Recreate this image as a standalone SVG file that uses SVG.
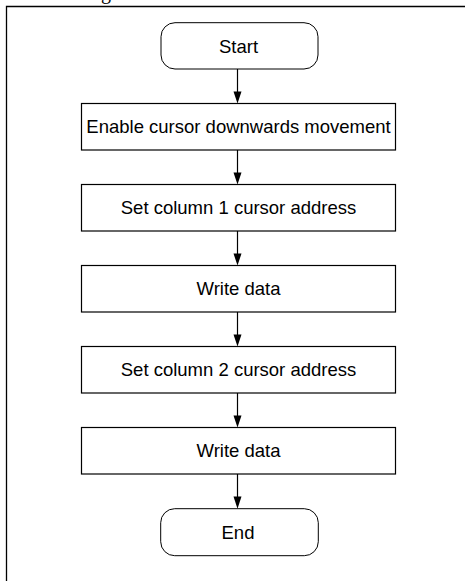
<svg xmlns="http://www.w3.org/2000/svg" width="465" height="581" viewBox="0 0 465 581">
<style>
.box{fill:#fff;stroke:#000;stroke-width:1.2}
.term{fill:#fff;stroke:#000;stroke-width:1}
.lbl{font-family:"Liberation Sans",Arial,sans-serif;font-size:18.5px;fill:#000;text-anchor:middle}
.conn line{stroke:#000;stroke-width:1.2}
.conn polygon{fill:#000}
</style>
<rect width="465" height="581" fill="#fff"/>
<text x="101" y="-1.5" style="font-family:'Liberation Serif',serif;font-size:20px;fill:#000">g</text>
<path d="M6.5,590 V6.5 H475" fill="none" stroke="#000" stroke-width="1.3"/>
<g id="start"><rect class="term" x="161" y="22.7" width="157" height="46.3" rx="14"/><text class="lbl" x="238.5" y="52.5">Start</text></g>
<g id="enable"><rect class="box" x="81.5" y="103.5" width="314" height="46.5"/><text class="lbl" x="238.5" y="133.3">Enable cursor downwards movement</text></g>
<g id="setcol1"><rect class="box" x="81.5" y="184.5" width="314" height="46.5"/><text class="lbl" x="238.5" y="214.3">Set column 1 cursor address</text></g>
<g id="write1"><rect class="box" x="81.5" y="265.5" width="314" height="46.5"/><text class="lbl" x="238.5" y="295.3">Write data</text></g>
<g id="setcol2"><rect class="box" x="81.5" y="346.5" width="314" height="46.5"/><text class="lbl" x="238.5" y="376.3">Set column 2 cursor address</text></g>
<g id="write2"><rect class="box" x="81.5" y="427.5" width="314" height="46.5"/><text class="lbl" x="238.5" y="457.3">Write data</text></g>
<g id="end"><rect class="term" x="160.7" y="508.7" width="157.6" height="47" rx="14"/><text class="lbl" x="238" y="538.8">End</text></g>
<g class="conn" id="connectors">
<line x1="237.5" y1="69" x2="237.5" y2="92"/><polygon points="233.5,91.5 241.5,91.5 237.5,103.5"/>
<line x1="237.5" y1="150" x2="237.5" y2="173"/><polygon points="233.5,172.5 241.5,172.5 237.5,184.5"/>
<line x1="237.5" y1="231" x2="237.5" y2="254"/><polygon points="233.5,253.5 241.5,253.5 237.5,265.5"/>
<line x1="237.5" y1="312" x2="237.5" y2="335"/><polygon points="233.5,334.5 241.5,334.5 237.5,346.5"/>
<line x1="237.5" y1="393" x2="237.5" y2="416"/><polygon points="233.5,415.5 241.5,415.5 237.5,427.5"/>
<line x1="237.5" y1="474" x2="237.5" y2="497"/><polygon points="233.5,496.5 241.5,496.5 237.5,508.7"/>
</g>
</svg>
